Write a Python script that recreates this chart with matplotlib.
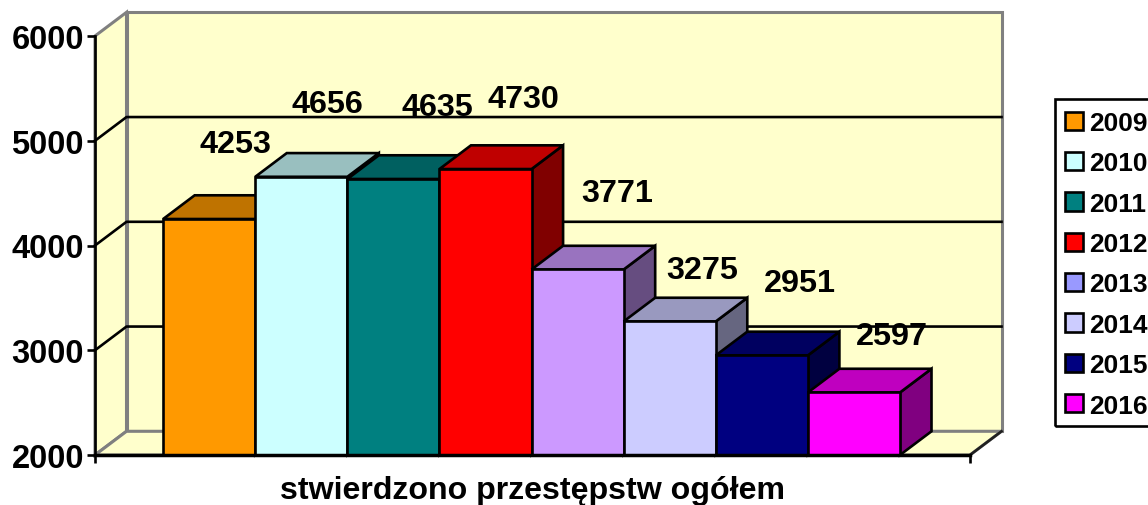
#!/usr/bin/env python3
import matplotlib
matplotlib.use('Agg')
import matplotlib.pyplot as plt
from matplotlib.patches import Patch, Rectangle
from matplotlib.colors import to_rgb
from matplotlib.transforms import IdentityTransform

years = ['2009', '2010', '2011', '2012', '2013', '2014', '2015', '2016']
values = [4253, 4656, 4635, 4730, 3771, 3275, 2951, 2597]
bar_colors = ['#FF9900', '#CCFFFF', '#008080', '#FF0000',
              '#CC99FF', '#CCCCFF', '#000080', '#FF00FF']
legend_colors = ['#FF9900', '#CCFFFF', '#008080', '#FF0000',
                 '#9999FF', '#CCCCFF', '#000080', '#FF00FF']
yticks = [2000, 3000, 4000, 5000, 6000]
xlabel = 'stwierdzono przestępstw ogółem'

# label shift from the middle of the bar top, in pixels
label_dx = [26, 26, 44, 38, 40, 32, 38, 38]
label_dy = [75, 73, 72, 70, 76, 51, 72, 56]

W, H = 1148, 506
plt.rcParams['font.family'] = ['Liberation Sans', 'DejaVu Sans']
plt.rcParams['font.weight'] = 'bold'


def shade(c, f):
    return tuple(v * f for v in to_rgb(c))


fig = plt.figure(figsize=(W / 100, H / 100), dpi=100)
ax = fig.add_axes([95 / W, 1 - 456 / H, 875 / W, 419 / H])
ax.patch.set_visible(False)
x0, x1 = -0.74, 8.76
y0, y1 = 2000, 6000
ax.set_xlim(x0, x1)
ax.set_ylim(y0, y1)

# depth of the fake 3d box
dx = 31.5 * (x1 - x0) / 875
dy = 23.7 * (y1 - y0) / 419
wall = '#FFFFCC'
gray = '#808080'
lw = 1.9

# walls
ax.fill([x0 + dx, x1 + dx, x1 + dx, x0 + dx], [y0 + dy, y0 + dy, y1 + dy, y1 + dy],
        fc=wall, ec=gray, lw=lw + 0.3, clip_on=False, zorder=1)
ax.fill([x0, x0 + dx, x0 + dx, x0], [y0, y0 + dy, y1 + dy, y1],
        fc=wall, ec=gray, lw=lw + 0.3, clip_on=False, zorder=1)
ax.fill([x0, x1, x1 + dx, x0 + dx], [y0, y0, y0 + dy, y0 + dy],
        fc=wall, ec=gray, lw=lw + 0.3, clip_on=False, zorder=1)
ax.plot([x1, x1 + dx], [y0, y0 + dy], color='#202020', lw=lw, clip_on=False, zorder=1.5)

# gridlines run round the walls
for v in yticks[1:-1]:
    ax.plot([x0, x0 + dx, x1 + dx], [v, v + dy, v + dy], color='black', lw=lw,
            clip_on=False, zorder=2)

for i, v in enumerate(values):
    z = 3 + i
    c = bar_colors[i]
    l, r = i, i + 1
    ax.fill([r, r + dx, r + dx, r], [y0, y0 + dy, v + dy, v], fc=shade(c, 0.5),
            ec='black', lw=lw, clip_on=False, zorder=z, joinstyle='miter')
    ax.fill([l, r, r + dx, l + dx], [v, v, v + dy, v + dy], fc=shade(c, 0.75),
            ec='black', lw=lw, clip_on=False, zorder=z, joinstyle='miter')
    ax.bar(i + 0.5, v - y0, bottom=y0, width=1, color=c, ec='black', lw=lw, zorder=z + 0.5)
    ax.annotate(str(v), (i + 0.5, v), xytext=(label_dx[i], label_dy[i]),
                textcoords='offset pixels', ha='center', va='center', fontsize=23.3,
                fontweight='bold', zorder=20, annotation_clip=False)

for s in ['top', 'right']:
    ax.spines[s].set_visible(False)
ax.spines['left'].set_linewidth(lw)
ax.spines['bottom'].set_linewidth(2.5)
ax.spines['left'].set_zorder(15)
ax.spines['bottom'].set_zorder(15)

ax.set_yticks(yticks)
ax.set_yticklabels([str(v) for v in yticks], fontsize=23.5, fontweight='bold')
ax.set_xticks([x0, x1])
ax.set_xticklabels(['', ''])
ax.tick_params(axis='y', length=6, width=lw, pad=2)
ax.tick_params(axis='x', length=6, width=lw)
ax.set_xlabel(xlabel, fontsize=23.1, fontweight='bold', labelpad=5)

# legend frame runs off the right side of the picture
fig.add_artist(Rectangle((1055, H - 427), 110, 327, fc='none', ec='black', lw=lw,
                         transform=IdentityTransform()))
handles = [Patch(fc=c, ec='black', lw=lw) for c in legend_colors]
ax.legend(handles, years, loc='upper left', bbox_to_anchor=(1065, H - 112),
          bbox_transform=IdentityTransform(), fontsize=19, frameon=False,
          borderaxespad=0, borderpad=0, handlelength=0.68, handleheight=0.68,
          handletextpad=0.24, labelspacing=0.62)

plt.savefig('out.png', dpi=100)
plt.close()
